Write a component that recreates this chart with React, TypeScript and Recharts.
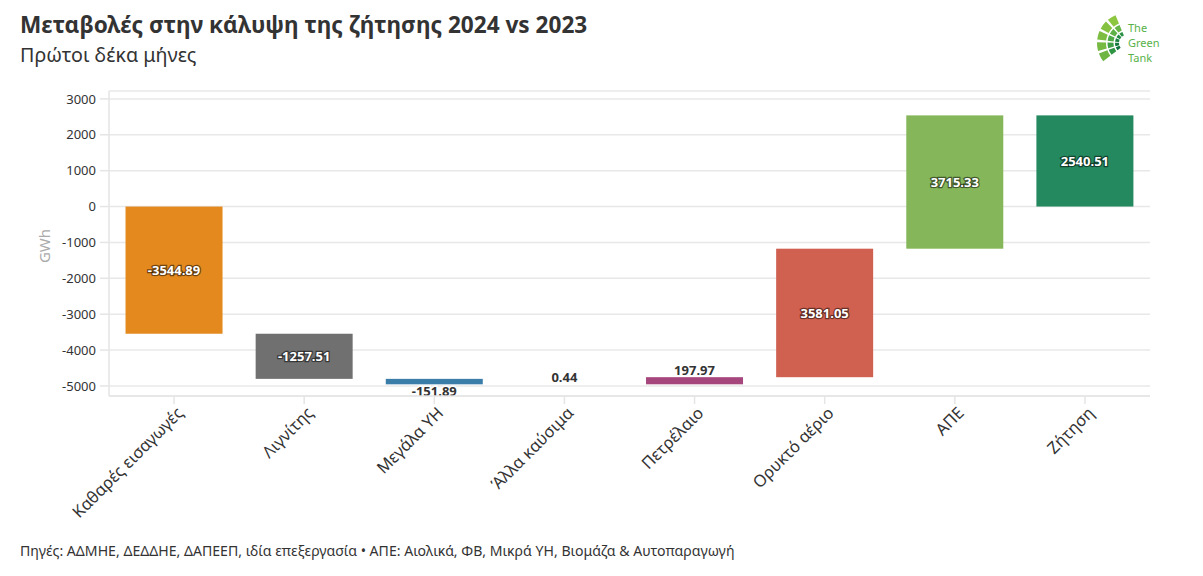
import React from 'react';
import { BarChart, Bar, XAxis, YAxis, CartesianGrid, Cell } from 'recharts';

const categories = [
  'Καθαρές εισαγωγές',
  'Λιγνίτης',
  'Μεγάλα ΥΗ',
  'Άλλα καύσιμα',
  'Πετρέλαιο',
  'Ορυκτό αέριο',
  'ΑΠΕ',
  'Ζήτηση',
];

// changes per source, last entry is the total (demand)
const changes = [-3544.89, -1257.51, -151.89, 0.44, 197.97, 3581.05, 3715.33];
const total = 2540.51;

const colors = ['#E3891E', '#707070', '#3A7DA8', '#8C6D46', '#A5467C', '#D0604F', '#85B75A', '#25895F'];

const yTicks = [-5000, -4000, -3000, -2000, -1000, 0, 1000, 2000, 3000];

const FONT = '"Noto Sans", sans-serif';

let running = 0;
const data = categories.map((name, i) => {
  if (i === changes.length) {
    return { name, value: total, range: [0, total] };
  }
  const start = running;
  running += changes[i];
  return { name, value: changes[i], range: [Math.min(start, running), Math.max(start, running)] };
});

const BarShape = (props: any) => {
  const { x, y, width, height, fill, index } = props;
  const top = Math.min(y, y + height);
  const h = Math.abs(height);
  const v = data[index].value;
  const label = v.toFixed(2);
  const cx = x + width / 2;
  let text;
  if (h > 25) {
    text = (
      <text x={cx} y={top + h / 2} textAnchor="middle" dominantBaseline="central"
        fontFamily={FONT} fontSize={13} fontWeight={700} fill="#fff"
        stroke="rgba(0,0,0,0.5)" strokeWidth={2.5} paintOrder="stroke">
        {label}
      </text>
    );
  } else {
    const ty = v < 0 ? top + h + 7 : top - 7;
    text = (
      <text x={cx} y={ty} textAnchor="middle" dominantBaseline="central"
        fontFamily={FONT} fontSize={13} fontWeight={700} fill="#333"
        stroke="#fff" strokeWidth={3} paintOrder="stroke">
        {label}
      </text>
    );
  }
  return (
    <g>
      {h >= 1 && <rect x={x} y={top} width={width} height={h} fill={fill} />}
      {text}
    </g>
  );
};

const XTick = (props: any) => {
  const { x, y, payload } = props;
  return (
    <g transform={`translate(${x + 6},${y + 4})`}>
      <text transform="rotate(-45)" textAnchor="end" dy="0.35em"
        fontFamily={FONT} fontSize={16.5} fill="#333">
        {payload.value}
      </text>
    </g>
  );
};

// small fan of green tiles plus the name
const Logo = () => {
  const cx = 33;
  const cy = 33;
  const rings = [
    { r0: 21, r1: 30, cols: ['#8dc63f', '#86c241', '#7dbd42', '#76b943', '#6fb544'] },
    { r0: 13.5, r1: 19.5, cols: ['#66b546', '#5db146', '#4eaa47', '#3f9f46', '#2f9444'] },
    { r0: 8, r1: 12, cols: ['#2c9145', '#238a43', '#1b8241', '#147a3e', '#0f723b'] },
  ];
  const a0 = 140;
  const a1 = 250;
  const n = 5;
  const gap = 2.5;
  const pt = (r: number, a: number) => {
    const rad = (a * Math.PI) / 180;
    return `${(cx + r * Math.cos(rad)).toFixed(2)},${(cy + r * Math.sin(rad)).toFixed(2)}`;
  };
  const paths: React.ReactNode[] = [];
  rings.forEach((ring, ri) => {
    for (let k = 0; k < n; k++) {
      const s = a0 + ((a1 - a0) / n) * k + gap;
      const e = a0 + ((a1 - a0) / n) * (k + 1) - gap;
      paths.push(
        <path key={`${ri}-${k}`} fill={ring.cols[n - 1 - k]}
          d={`M${pt(ring.r0, s)} L${pt(ring.r1, s)} A${ring.r1},${ring.r1} 0 0 1 ${pt(ring.r1, e)} L${pt(ring.r0, e)} A${ring.r0},${ring.r0} 0 0 0 ${pt(ring.r0, s)} Z`} />
      );
    }
  });
  return (
    <svg width={72} height={66}>
      {paths}
      <text x={34} y={22} fontFamily={FONT} fontSize={11} fill="#57b248">The</text>
      <text x={34} y={37} fontFamily={FONT} fontSize={11} fill="#57b248">Green</text>
      <text x={34} y={52} fontFamily={FONT} fontSize={11} fill="#57b248">Tank</text>
    </svg>
  );
};

const App: React.FC = () => {
  return (
    <div style={{ position: 'relative', width: 1187, height: 560, fontFamily: FONT }}>
      <div style={{ position: 'absolute', left: 12, top: 2, fontSize: 22.6, fontWeight: 700, color: '#333', lineHeight: '30px', whiteSpace: 'nowrap' }}>
        Μεταβολές στην κάλυψη της ζήτησης 2024 vs 2023
      </div>
      <div style={{ position: 'absolute', left: 12, top: 33, fontSize: 19.7, color: '#333', lineHeight: '28px', whiteSpace: 'nowrap' }}>
        Πρώτοι δέκα μήνες
      </div>
      <div style={{ position: 'absolute', left: 1086, top: 2 }}>
        <Logo />
      </div>
      <div style={{ position: 'absolute', left: 36 - 20, top: 238 - 10, width: 40, height: 20, lineHeight: '20px', textAlign: 'center', transform: 'rotate(-90deg)', fontSize: 15, color: '#aaa' }}>
        GWh
      </div>
      <BarChart width={1187} height={520} data={data}
        margin={{ top: 83, right: 45, bottom: 0, left: 0 }} barCategoryGap="12.7%">
        <CartesianGrid vertical={false} stroke="#e8e8e8" strokeWidth={1.5} />
        <XAxis dataKey="name" interval={0} height={132} tick={<XTick />}
          axisLine={{ stroke: '#e5e5e5', strokeWidth: 1.5 }} tickLine={{ stroke: '#e5e5e5', strokeWidth: 1.5 }} tickSize={8} />
        <YAxis width={101} domain={[-5280, 3220]} ticks={yTicks} interval={0}
          axisLine={{ stroke: '#e5e5e5', strokeWidth: 1.5 }} tickLine={{ stroke: '#e5e5e5', strokeWidth: 1.5 }}
          tickSize={9} tickMargin={4} tick={{ fontFamily: FONT, fontSize: 13, fill: '#333' }} />
        <Bar dataKey="range" isAnimationActive={false} shape={<BarShape />}>
          {data.map((d, i) => (
            <Cell key={`cell-${i}`} fill={colors[i]} />
          ))}
        </Bar>
      </BarChart>
      <div style={{ position: 'absolute', left: 12, top: 533, fontSize: 14.1, color: '#333', whiteSpace: 'nowrap' }}>
        Πηγές: ΑΔΜΗΕ, ΔΕΔΔΗΕ, ΔΑΠΕΕΠ, ιδία επεξεργασία • ΑΠΕ: Αιολικά, ΦΒ, Μικρά ΥΗ, Βιομάζα &amp; Αυτοπαραγωγή
      </div>
    </div>
  );
};

export default App;
